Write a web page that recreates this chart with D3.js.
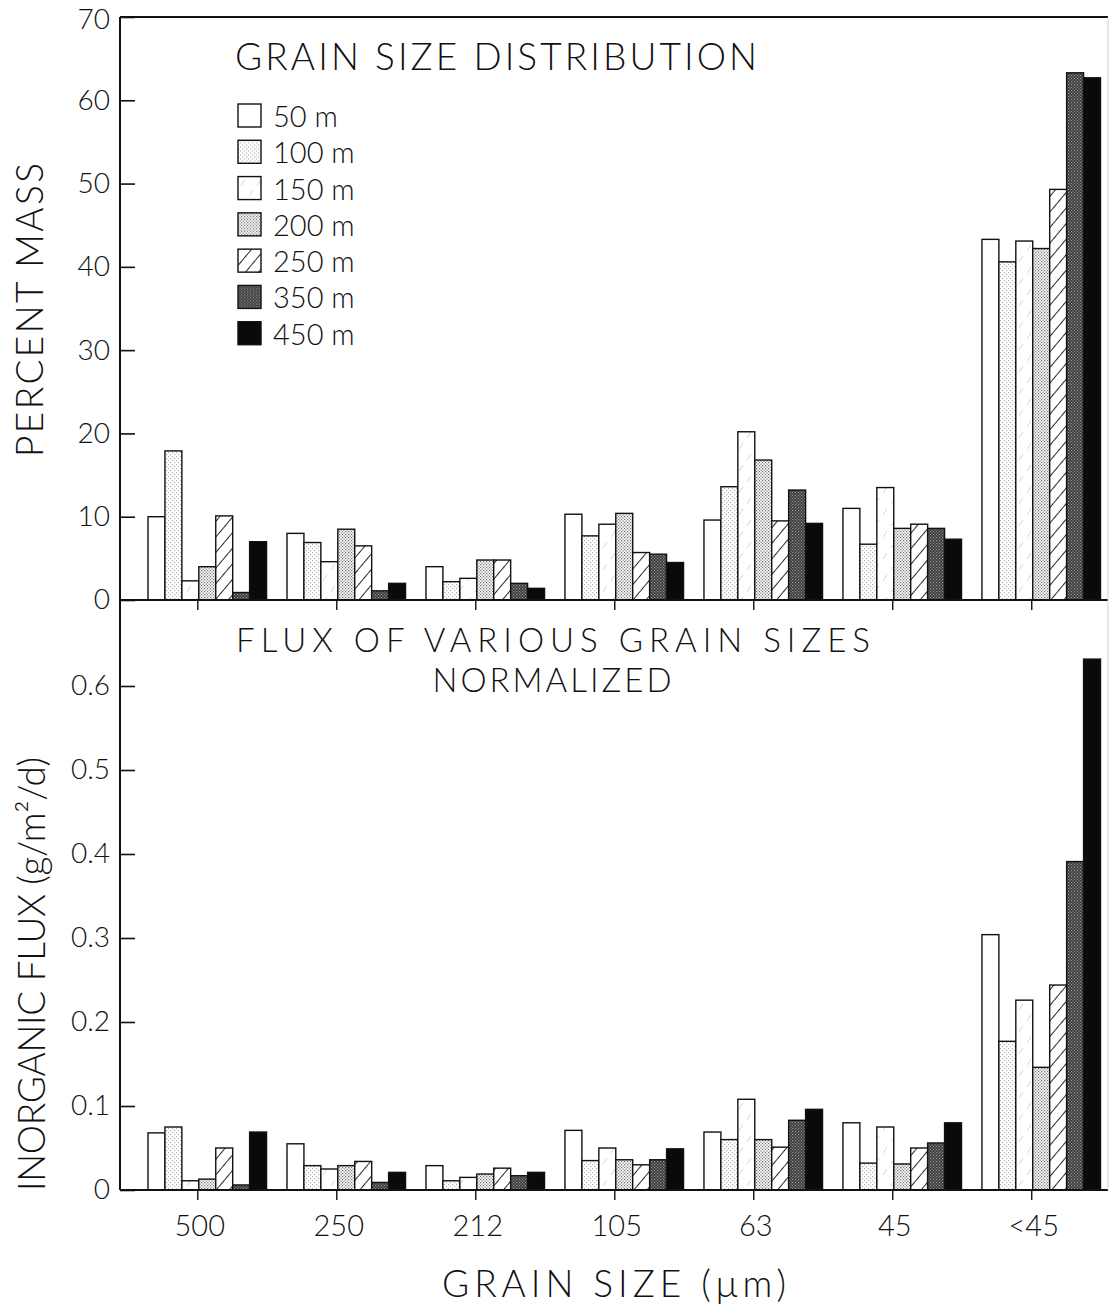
<!DOCTYPE html>
<html>
<head>
<meta charset="utf-8">
<script src="https://cdn.jsdelivr.net/npm/d3@7"></script>
<style>
  html, body { margin: 0; padding: 0; background: #fff; }
  svg text { font-family: Lato, "Liberation Sans", Arial, sans-serif; font-weight: 300; fill: #111; }
</style>
</head>
<body>
<script>
// ---------------- DATA ----------------
const categories = ["500", "250", "212", "105", "63", "45", "<45"];
const seriesLabels = ["50 m", "100 m", "150 m", "200 m", "250 m", "350 m", "450 m"];
const massTicks = [0, 10, 20, 30, 40, 50, 60, 70];
const fluxTicks = [0, 0.1, 0.2, 0.3, 0.4, 0.5, 0.6];

// percent mass, one row per depth, columns follow `categories`
const percentMass = [
  [10.0, 8.0, 4.0, 10.3,  9.6, 11.0, 43.3],  // 50 m
  [17.9, 6.9, 2.2,  7.7, 13.6,  6.7, 40.6],  // 100 m
  [ 2.3, 4.6, 2.6,  9.1, 20.2, 13.5, 43.1],  // 150 m
  [ 4.0, 8.5, 4.8, 10.4, 16.8,  8.6, 42.2],  // 200 m
  [10.1, 6.5, 4.8,  5.7,  9.5,  9.1, 49.3],  // 250 m
  [ 0.9, 1.1, 2.0,  5.5, 13.2,  8.6, 63.3],  // 350 m
  [ 7.0, 2.0, 1.4,  4.5,  9.2,  7.3, 62.7]   // 450 m
];

// inorganic flux (g/m2/d), one row per depth
const inorganicFlux = [
  [0.068, 0.055, 0.029, 0.071, 0.069, 0.080, 0.304],  // 50 m
  [0.075, 0.029, 0.011, 0.035, 0.060, 0.032, 0.177],  // 100 m
  [0.011, 0.025, 0.015, 0.050, 0.108, 0.075, 0.226],  // 150 m
  [0.013, 0.029, 0.019, 0.036, 0.060, 0.031, 0.146],  // 200 m
  [0.050, 0.034, 0.026, 0.030, 0.051, 0.050, 0.244],  // 250 m
  [0.006, 0.009, 0.017, 0.036, 0.083, 0.056, 0.391],  // 350 m
  [0.069, 0.021, 0.021, 0.049, 0.096, 0.080, 0.632]   // 450 m
];

// ---------------- LAYOUT ----------------
const W = 1110, H = 1309;
const axisX = 120, rightX = 1108;
const topY = 17, midY = 600, botY = 1190;

const svg = d3.select("body").append("svg")
  .attr("width", W).attr("height", H)
  .attr("viewBox", `0 0 ${W} ${H}`);

// ---------------- PATTERNS ----------------
const defs = svg.append("defs");
function dotPattern(id, size, bg, dot, r) {
  const p = defs.append("pattern").attr("id", id).attr("patternUnits", "userSpaceOnUse")
    .attr("width", size).attr("height", size);
  p.append("rect").attr("width", size).attr("height", size).attr("fill", bg);
  p.append("rect").attr("x", 0).attr("y", 0).attr("width", r).attr("height", r).attr("fill", dot);
  p.append("rect").attr("x", size / 2).attr("y", size / 2).attr("width", r).attr("height", r).attr("fill", dot);
}
dotPattern("p100", 4, "#ffffff", "#b5b5b5", 1.2);
dotPattern("p200", 3, "#ffffff", "#6e6e6e", 1.2);
dotPattern("p350", 3, "#3a3a3a", "#9a9a9a", 1.1);
{
  const p = defs.append("pattern").attr("id", "p150").attr("patternUnits", "userSpaceOnUse")
    .attr("width", 16).attr("height", 22);
  p.append("rect").attr("width", 16).attr("height", 22).attr("fill", "#fff");
  p.append("line").attr("x1", 3).attr("y1", 9).attr("x2", 7).attr("y2", 3)
    .attr("stroke", "#c8c8c8").attr("stroke-width", 0.8);
  p.append("line").attr("x1", 11).attr("y1", 20).attr("x2", 15).attr("y2", 14)
    .attr("stroke", "#c8c8c8").attr("stroke-width", 0.8);
}
{
  const p = defs.append("pattern").attr("id", "p250").attr("patternUnits", "userSpaceOnUse")
    .attr("width", 10).attr("height", 10).attr("patternTransform", "rotate(40)");
  p.append("rect").attr("width", 10).attr("height", 10).attr("fill", "#fff");
  p.append("line").attr("x1", 0).attr("y1", 0).attr("x2", 0).attr("y2", 10)
    .attr("stroke", "#111").attr("stroke-width", 1.8);
}
const fills = ["#ffffff", "url(#p100)", "url(#p150)", "url(#p200)", "url(#p250)", "url(#p350)", "#0a0a0a"];

// ---------------- SCALES ----------------
const x = d3.scaleBand().domain(categories).range([148, 1100.5]).paddingInner(0.147).paddingOuter(0);
const xi = d3.scaleBand().domain(d3.range(seriesLabels.length)).range([0, x.bandwidth()]).padding(0);
const yTop = d3.scaleLinear().domain([0, 70]).range([midY, topY]);
const yBot = d3.scaleLinear().domain([0, 0.6]).range([botY, 686]);
const tickX = c => x(c) + x.bandwidth() * 0.42;

// ---------------- BARS ----------------
function drawBars(rows, y, cls) {
  const data = [];
  rows.forEach((row, si) => row.forEach((v, ci) => data.push({ si, c: categories[ci], v })));
  svg.append("g").attr("class", cls).selectAll("rect").data(data).join("rect")
    .attr("x", d => x(d.c) + xi(d.si))
    .attr("width", xi.bandwidth())
    .attr("y", d => y(d.v))
    .attr("height", d => y(0) - y(d.v))
    .attr("fill", d => fills[d.si])
    .attr("stroke", "#111").attr("stroke-width", 1.4);
}
drawBars(percentMass, yTop, "mass");
drawBars(inorganicFlux, yBot, "flux");

// ---------------- FRAME ----------------
const frame = svg.append("g").attr("stroke", "#111").attr("stroke-width", 2).attr("fill", "none");
frame.append("line").attr("x1", axisX).attr("x2", rightX).attr("y1", topY).attr("y2", topY);
frame.append("line").attr("x1", axisX).attr("x2", rightX).attr("y1", midY).attr("y2", midY);
frame.append("line").attr("x1", axisX).attr("x2", rightX).attr("y1", botY).attr("y2", botY);
frame.append("line").attr("x1", axisX).attr("x2", axisX).attr("y1", topY).attr("y2", botY);
svg.append("line").attr("x1", rightX).attr("x2", rightX).attr("y1", topY).attr("y2", botY)
  .attr("stroke", "#cfcfcf").attr("stroke-width", 1);

// ---------------- AXES ----------------
function styleAxis(g) {
  g.select(".domain").remove();
  g.selectAll(".tick line").attr("stroke", "#111").attr("stroke-width", 1.6);
  g.selectAll(".tick text").style("font-size", "28px").attr("fill", "#111")
    .style("font-family", "Lato, 'Liberation Sans', Arial, sans-serif").style("font-weight", 300);
}
svg.append("g").attr("transform", `translate(${axisX},0)`)
  .call(d3.axisLeft(yTop).tickValues(massTicks).tickSize(-15).tickPadding(10).tickFormat(d3.format("d")))
  .call(styleAxis)
  .call(g => g.selectAll(".tick text").filter(d => d === 70).attr("dy", "0.42em"));
svg.append("g").attr("transform", `translate(${axisX},0)`)
  .call(d3.axisLeft(yBot).tickValues(fluxTicks).tickSize(-15).tickPadding(10)
    .tickFormat(d => d === 0 ? "0" : d3.format(".1f")(d)))
  .call(styleAxis);

// category ticks (under both baselines)
[midY, botY].forEach(yb => {
  svg.append("g").selectAll("line").data(categories).join("line")
    .attr("x1", d => tickX(d)).attr("x2", d => tickX(d))
    .attr("y1", yb).attr("y2", yb + 10)
    .attr("stroke", "#111").attr("stroke-width", 1.4);
});
svg.append("g").selectAll("text").data(categories).join("text")
  .attr("x", d => tickX(d) + 2).attr("y", 1236)
  .attr("text-anchor", "middle")
  .style("font-size", "29px")
  .text(d => d);

// ---------------- TITLES & LABELS ----------------
function label(txt, x0, y0, size, len, rot) {
  const t = svg.append("text")
    .attr("text-anchor", "middle")
    .style("font-size", size + "px")
    .attr("textLength", len).attr("lengthAdjust", "spacing")
    .text(txt);
  if (rot) t.attr("transform", `translate(${x0},${y0}) rotate(-90)`);
  else t.attr("x", x0).attr("y", y0);
  return t;
}
label("GRAIN SIZE DISTRIBUTION", 496, 70, 37, 522);
label("FLUX OF VARIOUS GRAIN SIZES", 553, 652, 33, 634);
label("NORMALIZED", 552, 692, 33, 239);
label("GRAIN SIZE (μm)", 614, 1297, 37, 344);
label("PERCENT MASS", 43, 310, 37, 294, true);
label("INORGANIC FLUX (g/m²/d)", 45, 974, 37, 434, true);

// ---------------- LEGEND ----------------
const legendY = d3.scaleBand().domain(d3.range(seriesLabels.length)).range([98, 352]);
const lg = svg.append("g").selectAll("g").data(seriesLabels).join("g")
  .attr("transform", (d, i) => `translate(238,${legendY(i) + 6})`);
lg.append("rect").attr("width", 23).attr("height", 23)
  .attr("fill", (d, i) => fills[i]).attr("stroke", "#111").attr("stroke-width", 1.4);
lg.append("text").attr("x", 35).attr("y", 23)
  .style("font-size", "29px")
  .text(d => d);
</script>
</body>
</html>
